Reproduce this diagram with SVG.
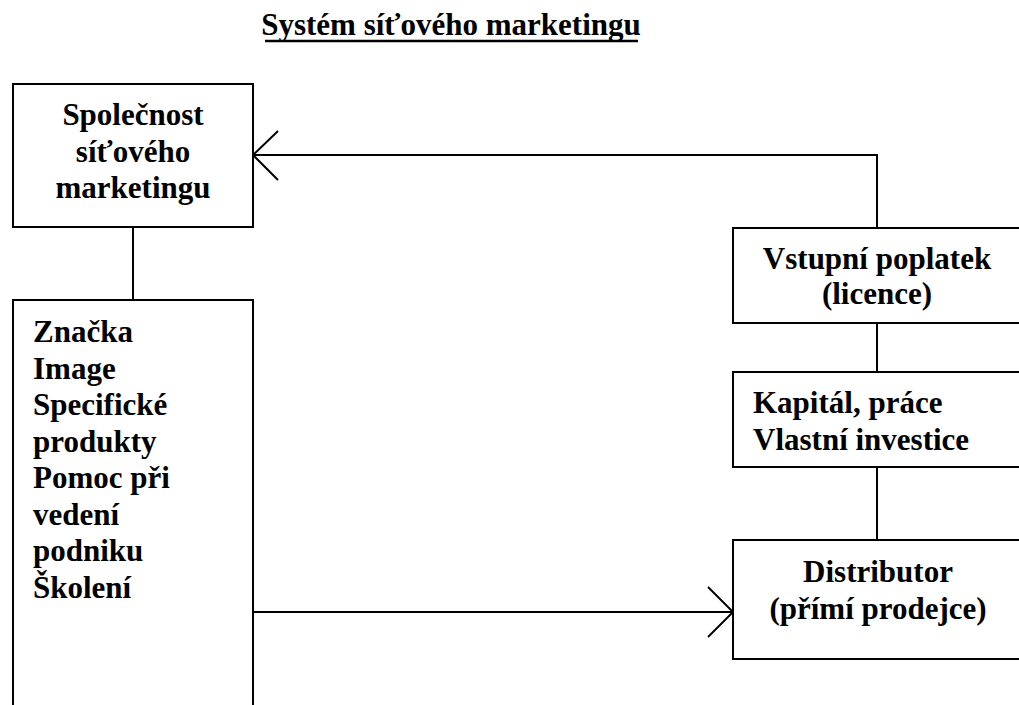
<svg xmlns="http://www.w3.org/2000/svg" width="1019" height="705" viewBox="0 0 1019 705">
<style>
.box{fill:#fff;stroke:#000;stroke-width:2}
.ln{fill:none;stroke:#000;stroke-width:2}
text{font-family:"Liberation Serif","Times New Roman",serif;font-weight:bold;font-size:31px;fill:#000}
.c{text-anchor:middle}
</style>
<rect width="1019" height="705" fill="#fff"/>
<g id="title">
<text x="451" y="35" class="c">Systém síťového marketingu</text>
<line x1="265" y1="41" x2="638" y2="41" stroke="#000" stroke-width="2.5"/>
</g>
<g id="connectors">
<polyline class="ln" points="877,228 877,155 253,155"/>
<polyline class="ln" points="278,131 253,155 278,180"/>
<line class="ln" x1="133" y1="227" x2="133" y2="300"/>
<line class="ln" x1="877" y1="323" x2="877" y2="372"/>
<line class="ln" x1="877" y1="467" x2="877" y2="540"/>
<line class="ln" x1="253" y1="612" x2="733" y2="612"/>
<polyline class="ln" points="708,587 733,612 708,637"/>
</g>
<g id="company">
<rect class="box" x="13" y="84" width="240" height="143"/>
<text x="133" y="125" class="c">Společnost</text>
<text x="133" y="162" class="c">síťového</text>
<text x="133" y="198" class="c">marketingu</text>
</g>
<g id="benefits">
<rect class="box" x="13" y="300" width="240" height="420"/>
<text x="33" y="342">Značka</text>
<text x="33" y="378.6">Image</text>
<text x="33" y="415.1">Specifické</text>
<text x="33" y="451.7">produkty</text>
<text x="33" y="488.3">Pomoc při</text>
<text x="33" y="524.9">vedení</text>
<text x="33" y="561.4">podniku</text>
<text x="33" y="598">Školení</text>
</g>
<g id="fee">
<rect class="box" x="733" y="228" width="300" height="95"/>
<text x="877" y="269" class="c">Vstupní poplatek</text>
<text x="877" y="304" class="c">(licence)</text>
</g>
<g id="capital">
<rect class="box" x="733" y="372" width="300" height="95"/>
<text x="753" y="413">Kapitál, práce</text>
<text x="753" y="450">Vlastní investice</text>
</g>
<g id="distributor">
<rect class="box" x="733" y="540" width="300" height="119"/>
<text x="878" y="582" class="c">Distributor</text>
<text x="878" y="619" class="c">(přímí prodejce)</text>
</g>
</svg>
